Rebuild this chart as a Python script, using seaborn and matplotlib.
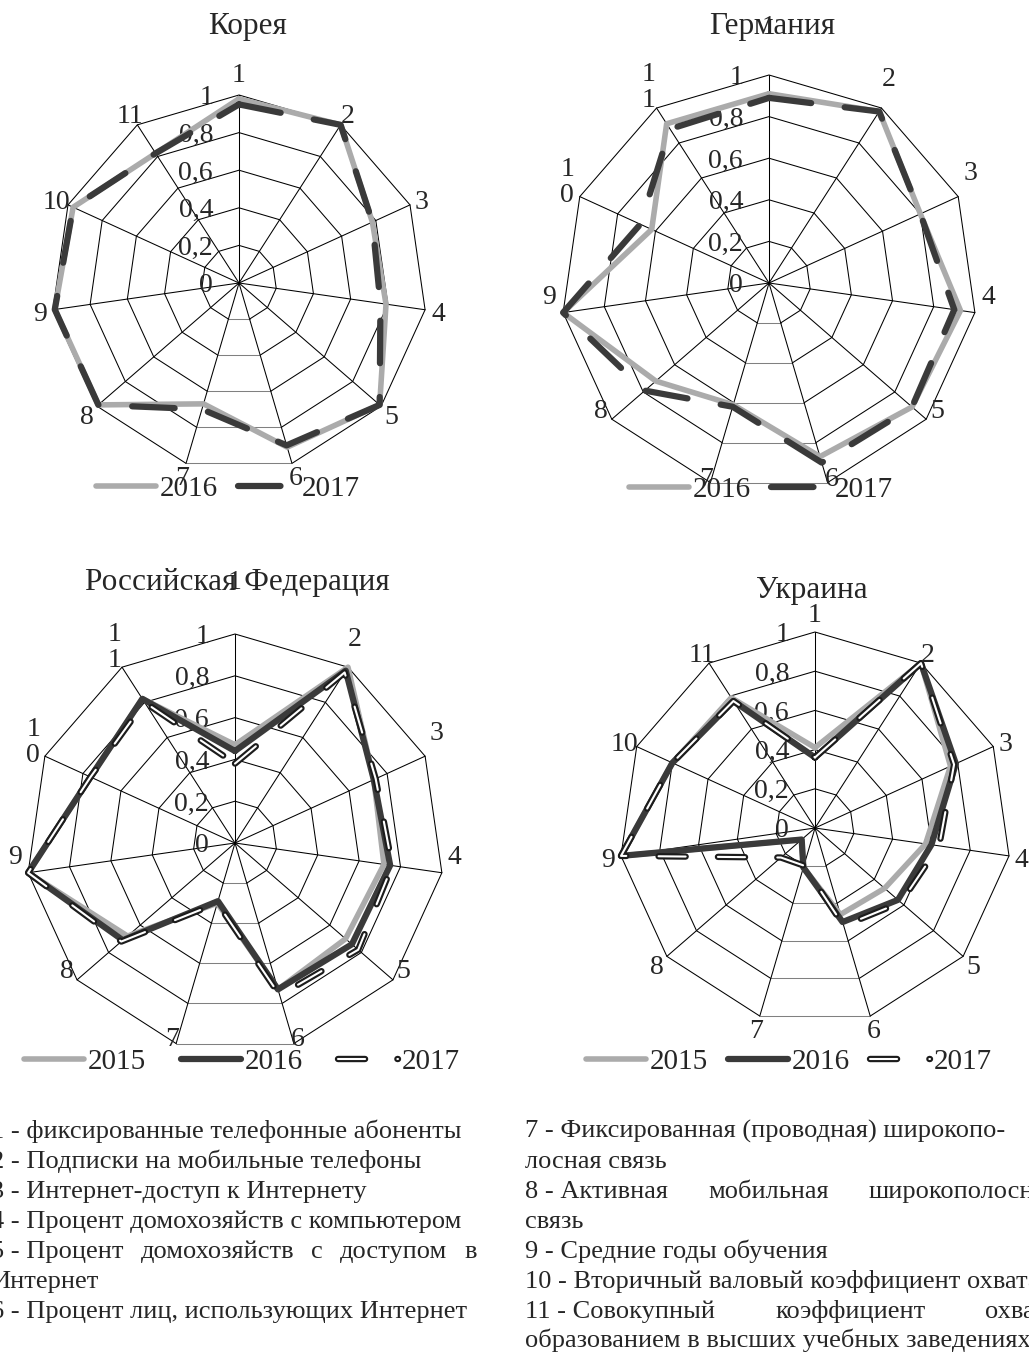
import numpy as np
import pandas as pd
import seaborn as sns
import matplotlib
matplotlib.use("Agg")
import matplotlib.pyplot as plt
import matplotlib.patheffects as pe

# ---------------- data ----------------
categories = ["1", "2", "3", "4", "5", "6", "7", "8", "9", "10", "11"]
r_ticks = [0, 0.2, 0.4, 0.6, 0.8, 1.0]
r_tick_labels = ["0", "0,2", "0,4", "0,6", "0,8", "1"]

korea_years = ["2016", "2017"]
korea_2016 = [0.98, 1.00, 0.78, 0.79, 0.99, 0.91, 0.67, 0.99, 0.99, 0.97, 0.82]
korea_2017 = [0.95, 1.00, 0.78, 0.76, 0.99, 0.90, 0.70, 0.99, 0.99, 0.97, 0.82]

germany_years = ["2016", "2017"]
germany_2016 = [0.91, 0.98, 0.80, 0.93, 0.91, 0.87, 0.61, 0.72, 1.00, 0.62, 0.91]
germany_2017 = [0.89, 0.98, 0.80, 0.90, 0.91, 0.90, 0.62, 0.79, 1.00, 0.68, 0.88]

russia_years = ["2015", "2016", "2017"]
russia_2015 = [0.47, 1.00, 0.73, 0.72, 0.70, 0.73, 0.30, 0.68, 1.00, 0.76, 0.82]
russia_2016 = [0.44, 0.98, 0.73, 0.75, 0.74, 0.73, 0.29, 0.71, 1.00, 0.76, 0.82]
russia_2017 = [0.38, 0.97, 0.74, 0.76, 0.78, 0.76, 0.30, 0.72, 1.00, 0.76, 0.80]

ukraine_years = ["2015", "2016", "2017"]
ukraine_2015 = [0.41, 1.00, 0.76, 0.57, 0.47, 0.46, 0.21, 0.09, 1.00, 0.80, 0.79]
ukraine_2016 = [0.36, 1.00, 0.79, 0.60, 0.56, 0.50, 0.21, 0.09, 1.00, 0.80, 0.77]
ukraine_2017 = [0.36, 1.00, 0.78, 0.64, 0.58, 0.52, 0.20, 0.23, 1.00, 0.80, 0.77]

titles = ["Корея", "Германия", "Российская Федерация", "Украина"]

notes_left = [
    "1 - фиксированные телефонные абоненты",
    "2 - Подписки на мобильные телефоны",
    "3 - Интернет-доступ к Интернету",
    "4 - Процент домохозяйств с компьютером",
    ["5 - Процент", "домохозяйств", "с", "доступом", "в"],
    "Интернет",
    "6 - Процент лиц, использующих Интернет",
]
notes_right = [
    "7 - Фиксированная (проводная) широкопо-",
    "лосная связь",
    ["8 - Активная", "мобильная", "широкополосная"],
    "связь",
    "9 - Средние годы обучения",
    "10 - Вторичный валовый коэффициент охвата",
    ["11 - Совокупный", "коэффициент", "охвата"],
    "образованием в высших учебных заведениях",
]

# ---------------- style ----------------
sns.set_theme(style="white")
plt.rcParams["font.family"] = ["Liberation Serif", "DejaVu Serif"]
FS = 20          # axis / category labels
FS_LEG = 21      # legend
FS_TITLE = 22.5  # chart titles
FS_NOTE = 19     # notes below

W, H = 1029, 1356
fig = plt.figure(figsize=(W / 100, H / 100), dpi=100)
fig.patch.set_facecolor("white")

DARK = "#3a3a3a"
st_gray = dict(color="#ababab", linewidth=4.0, solid_capstyle="round", solid_joinstyle="round")
st_dark_dash = dict(color=DARK, linewidth=4.5, linestyle=(0, (6.8, 5.4)),
                    dash_capstyle="round", dash_joinstyle="round")
st_dark = dict(color=DARK, linewidth=4.5, solid_capstyle="round", solid_joinstyle="round")
st_outline = dict(color="white", linewidth=1.5, linestyle=(0, (13.0, 15.5)),
                  dash_capstyle="round", dash_joinstyle="round",
                  path_effects=[pe.Stroke(linewidth=4.6, foreground="#1c1c1c",
                                          capstyle="round"), pe.Normal()])

n = len(categories)
theta = np.arange(n) * 2 * np.pi / n


def radar(cx, cy, R, series, title, title_xy, lab_dy, lab_r, top_r, wrap,
          leg_xy, colspace):
    ax = fig.add_axes([(cx - R) / W, 1 - (cy + R) / H, 2 * R / W, 2 * R / H],
                      projection="polar")
    ax.set_theta_zero_location("N")
    ax.set_theta_direction(-1)
    ax.patch.set_visible(False)

    # polygon grid
    order = list(range(6, n)) + list(range(0, 6))
    ang = np.array([theta[i] if i >= 6 else theta[i] + 2 * np.pi for i in order])
    for r in r_ticks[1:]:
        ax.plot(ang, [r] * len(ang), color="black", lw=0.75, clip_on=False, zorder=1)
        ax.plot([theta[5], theta[6]], [r, r], color="#808080", lw=0.75,
                clip_on=False, zorder=1)
    for th in theta:
        ax.plot([th, th], [0, 1], color="black", lw=0.75, clip_on=False, zorder=1)

    handles, labels = [], []
    for lab, vals, st in series:
        df = pd.DataFrame({"theta": np.append(theta, 2 * np.pi),
                           "value": list(vals) + [vals[0]]})
        sns.lineplot(data=df, x="theta", y="value", ax=ax, sort=False,
                     estimator=None, legend=False, clip_on=False, zorder=3, **st)
        handles.append(ax.lines[-1])
        labels.append(lab)

    ax.set_xlabel("")
    ax.set_ylabel("")
    ax.grid(False)
    ax.set_xticks([])
    ax.set_yticks([])
    ax.spines["polar"].set_visible(False)
    ax.set_xlim(0, 2 * np.pi)
    ax.set_ylim(0, 1)

    # value labels
    for r, lab in zip(r_ticks, r_tick_labels):
        ax.text(0.5 - 26 / (2 * R), 0.5 + r / 2, lab, transform=ax.transAxes,
                ha="right", va="center_baseline", fontsize=FS, zorder=2)
    # category labels
    for i, (th, lab) in enumerate(zip(theta, categories)):
        rr = top_r if i == 0 else lab_r
        x = 0.5 + rr * np.sin(th) / (2 * R)
        y = 0.5 + (rr * np.cos(th) + lab_dy) / (2 * R)
        if wrap and len(lab) > 1:
            ax.text(x, y + 14 / (2 * R), "\n".join(lab), transform=ax.transAxes,
                    ha="center", va="top", fontsize=FS, linespacing=1.05)
        else:
            ax.text(x, y, lab, transform=ax.transAxes, ha="center",
                    va="center_baseline", fontsize=FS)

    fig.text(title_xy[0] / W, 1 - title_xy[1] / H, title, ha="center",
             va="baseline", fontsize=FS_TITLE)
    fig.legend(handles, labels, loc="center",
               bbox_to_anchor=(leg_xy[0] / W, 1 - leg_xy[1] / H),
               ncol=len(handles), frameon=False, fontsize=FS_LEG, handlelength=2.06,
               handletextpad=0.12, columnspacing=colspace, borderpad=0,
               borderaxespad=0)
    return ax


radar(239, 283, 188,
      [(korea_years[0], korea_2016, st_gray), (korea_years[1], korea_2017, st_dark_dash)],
      titles[0], (248, 34), 0, 201, 211, False, (228, 489), 0.69)
radar(769, 283, 208,
      [(germany_years[0], germany_2016, st_gray), (germany_years[1], germany_2017, st_dark_dash)],
      titles[1], (772, 34), 20, 222, 238, True, (761, 490), 0.69)
radar(235, 843, 209,
      [(russia_years[0], russia_2015, st_gray), (russia_years[1], russia_2016, st_dark),
       (russia_years[2], russia_2017, st_outline)],
      titles[2], (237, 590), 20, 222, 243, True, (242, 1062), 1.2)
radar(815, 828, 196,
      [(ukraine_years[0], ukraine_2015, st_gray), (ukraine_years[1], ukraine_2016, st_dark),
       (ukraine_years[2], ukraine_2017, st_outline)],
      titles[3], (812, 598), 0, 209, 215, False, (789, 1062), 0.69)

# ---------------- notes ----------------
renderer = fig.canvas.get_renderer()


def put_line(item, x0, x1, yb):
    if isinstance(item, str):
        fig.text(x0 / W, 1 - yb / H, item, ha="left", va="baseline", fontsize=FS_NOTE)
        return
    ts = [fig.text(0, 1 - yb / H, t, ha="left", va="baseline", fontsize=FS_NOTE)
          for t in item]
    widths = [t.get_window_extent(renderer).width for t in ts]
    gap = (x1 - x0 - sum(widths)) / (len(ts) - 1)
    x = x0
    for t, w in zip(ts, widths):
        t.set_x(x / W)
        x += w + gap


for k, item in enumerate(notes_left):
    put_line(item, -9, 477, 1138 + 30 * k)
for k, item in enumerate(notes_right):
    put_line(item, 525, 1058, 1138 + 30 * k if k < 7 else 1347)

fig.savefig("out.png", dpi=100, facecolor="white")
